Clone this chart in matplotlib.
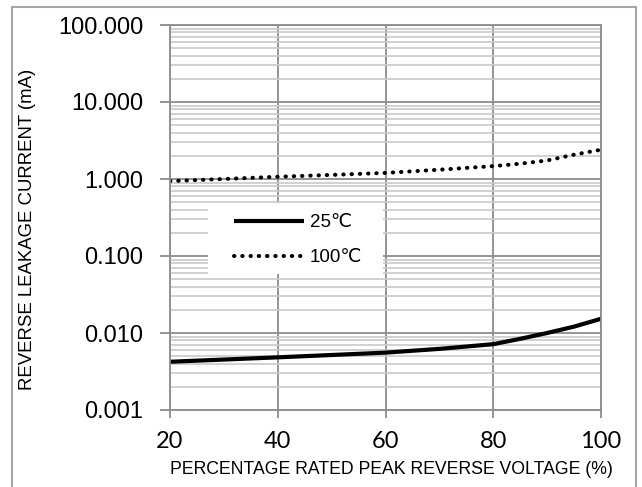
import matplotlib.pyplot as plt
from matplotlib.patches import Rectangle
from matplotlib.ticker import FixedLocator, LogLocator, NullFormatter

# percentage of rated peak reverse voltage
voltage_pct = [20, 30, 40, 50, 60, 70, 80, 85, 90, 95, 100]
# leakage current in mA
leak_25c = [0.00423, 0.00452, 0.00483, 0.00518, 0.00556, 0.00622, 0.00716,
            0.0084, 0.0100, 0.0121, 0.0153]
leak_100c = [0.94, 1.00, 1.07, 1.13, 1.20, 1.32, 1.47, 1.58, 1.74, 2.07, 2.40]

y_ticks = [0.001, 0.01, 0.1, 1, 10, 100]
x_ticks = [20, 40, 60, 80, 100]

W, H = 642, 487
GRID_DARK = '#8c8c8c'
GRID_LIGHT = '#cacaca'
FONT = ['Liberation Sans', 'DejaVu Sans']

fig = plt.figure(figsize=(W / 100, H / 100), dpi=100)
ax = fig.add_axes([170 / W, 1 - 410 / H, 431 / W, 385 / H])

ax.plot(voltage_pct, leak_25c, color='black', lw=3.0, label='25\u2103',
        solid_capstyle='butt')
ax.plot(voltage_pct, leak_100c, color='black', lw=2.9,
        linestyle=(0, (0.1, 1.95)), dash_capstyle='round', label='100\u2103')

ax.set_yscale('log')
ax.set_xlim(20, 100)
ax.set_ylim(0.001, 100)

ax.yaxis.set_major_locator(FixedLocator(y_ticks))
ax.yaxis.set_minor_locator(LogLocator(base=10, subs=range(2, 10)))
ax.yaxis.set_minor_formatter(NullFormatter())
ax.set_yticks(y_ticks)
ax.set_yticklabels(['%.3f' % v for v in y_ticks], family=FONT, fontsize=17)
ax.set_xticks(x_ticks)
ax.set_xticklabels([str(v) for v in x_ticks], family=['Lato', 'DejaVu Sans'],
                   fontsize=17)

ax.grid(True, which='major', color=GRID_DARK, lw=1.3)
ax.grid(True, which='minor', axis='y', color=GRID_LIGHT, lw=1.2)
ax.set_axisbelow(True)

for side, sp in ax.spines.items():
    sp.set_color(GRID_DARK)
    sp.set_linewidth(1.3)

ax.tick_params(axis='y', which='major', length=7, width=1.3, color=GRID_DARK,
               pad=12, labelcolor='black')
ax.tick_params(axis='y', which='minor', length=0)
ax.tick_params(axis='x', which='major', length=6, width=1.3, color=GRID_DARK,
               pad=9, labelcolor='black')

fig.text(28 / W, 1 - 229 / H, 'REVERSE LEAKAGE CURRENT (mA)', rotation=90,
         ha='center', va='center', family=FONT, fontsize=13.4)
fig.text(391 / W, 1 - 470 / H, 'PERCENTAGE RATED PEAK REVERSE VOLTAGE (%)',
         ha='center', va='center', family=FONT, fontsize=12.7)

# white legend background box, drawn separately for uneven padding
ax.add_patch(Rectangle(((208 - 170) / 431, (410 - 274) / 385), 175 / 431, 71 / 385,
                       transform=ax.transAxes, facecolor='white',
                       edgecolor='none', zorder=2.5))
leg = ax.legend(loc='upper left', bbox_to_anchor=((234 - 170) / 431, (410 - 214) / 385),
                frameon=False, prop={'family': FONT, 'size': 13.5},
                handlelength=3.73, borderpad=0, labelspacing=0.95,
                handletextpad=0.32, borderaxespad=0)

fig.patches.append(Rectangle((12 / W, -0.02), 624 / W, 1.02 - 7 / H,
                             transform=fig.transFigure, fill=False,
                             edgecolor='#a6a6a6', lw=1.5))

fig.savefig('out.png', dpi=100)
